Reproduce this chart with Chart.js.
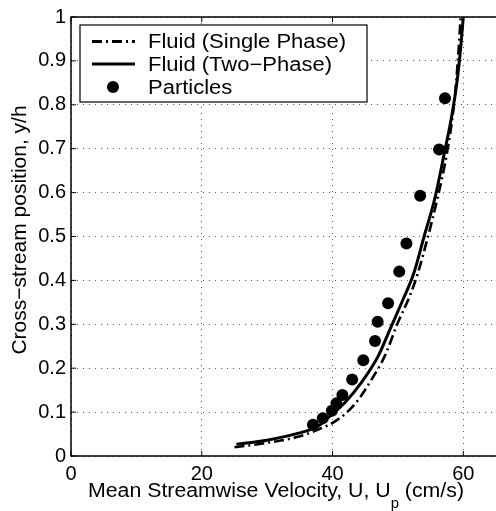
<!DOCTYPE html>
<html>
<head>
<meta charset="utf-8">
<script src="https://cdn.jsdelivr.net/npm/chart.js@4/dist/chart.umd.min.js"></script>
<style>
  html, body { margin: 0; padding: 0; background: #fff; overflow: hidden; }
  canvas { display: block; }
</style>
</head>
<body>
<canvas id="chart" width="496" height="511"></canvas>
<script>
// values
const singlePhaseU = [25.0, 30.0, 35.0, 37.9, 40.5, 43.4, 46.0, 48.0, 50.0, 51.8, 53.0, 54.6, 56.1, 57.5, 58.5, 58.9, 59.3, 59.6];
const singlePhaseY = [0.020, 0.030, 0.045, 0.061, 0.080, 0.118, 0.175, 0.228, 0.304, 0.364, 0.414, 0.500, 0.590, 0.690, 0.790, 0.850, 0.930, 1.000];

const twoPhaseU = [25.3, 30.0, 34.8, 37.9, 39.4, 41.9, 44.4, 47.0, 49.0, 50.8, 52.4, 54.0, 55.6, 57.1, 58.3, 59.1, 59.6, 60.0];
const twoPhaseY = [0.027, 0.036, 0.052, 0.069, 0.088, 0.122, 0.167, 0.228, 0.296, 0.357, 0.415, 0.500, 0.584, 0.690, 0.780, 0.860, 0.930, 1.000];

const particleU = [37.0, 38.5, 39.9, 40.6, 41.5, 43.0, 44.7, 46.5, 46.9, 48.5, 50.2, 51.3, 53.4, 56.3, 57.2];
const particleY = [0.071, 0.086, 0.103, 0.120, 0.139, 0.174, 0.218, 0.262, 0.306, 0.348, 0.420, 0.484, 0.593, 0.698, 0.815];

const xTickValues = [0, 20, 40, 60];
const legendLabels = ['Fluid (Single Phase)', 'Fluid (Two\u2212Phase)', 'Particles'];
const xTitleParts = ['Mean Streamwise Velocity, U, U', 'p', ' (cm/s)'];
const yTitle = 'Cross\u2212stream position, y/h';

const FONT = '"Liberation Sans", Arial, Helvetica, sans-serif';
const DASH_DOT = [10, 4, 2, 4];

function toPoints(xs, ys) {
    return xs.map((x, i) => ({ x: x, y: ys[i] }));
}

function stretched(ctx, text, x, y, sx) {
    ctx.save();
    ctx.translate(x, y);
    ctx.scale(sx, 1);
    ctx.fillText(text, 0, 0);
    ctx.restore();
}

// axes lines (right side is cut off in the original) plus inward tick marks
const framePlugin = {
    id: 'frame',
    afterDatasetsDraw(chart) {
        const ctx = chart.ctx;
        const a = chart.chartArea;
        const xs = chart.scales.x, ys = chart.scales.y;
        ctx.save();
        ctx.strokeStyle = '#000';
        ctx.lineWidth = 1.5;
        ctx.beginPath();
        ctx.moveTo(a.right, a.top);
        ctx.lineTo(a.left, a.top);
        ctx.lineTo(a.left, a.bottom);
        ctx.lineTo(a.right, a.bottom);
        ctx.stroke();
        ctx.lineWidth = 1;
        ctx.beginPath();
        xTickValues.forEach(v => {
            const px = xs.getPixelForValue(v);
            ctx.moveTo(px, a.bottom); ctx.lineTo(px, a.bottom - 5);
            ctx.moveTo(px, a.top); ctx.lineTo(px, a.top + 5);
        });
        ys.ticks.forEach(t => {
            const py = ys.getPixelForValue(t.value);
            ctx.moveTo(a.left, py); ctx.lineTo(a.left + 5, py);
        });
        ctx.stroke();
        ctx.restore();
    }
};

const titlesPlugin = {
    id: 'titles',
    afterDraw(chart) {
        const ctx = chart.ctx;
        ctx.save();
        ctx.fillStyle = '#000';
        ctx.textBaseline = 'alphabetic';
        ctx.textAlign = 'left';
        // x title with subscript p
        const sx = 1.065;
        let x = 88;
        const base = 497;
        ctx.font = '20px ' + FONT;
        stretched(ctx, xTitleParts[0], x, base, sx);
        x += ctx.measureText(xTitleParts[0]).width * sx;
        ctx.font = '14px ' + FONT;
        stretched(ctx, xTitleParts[1], x, base + 11, sx);
        x += ctx.measureText(xTitleParts[1]).width * sx;
        ctx.font = '20px ' + FONT;
        stretched(ctx, xTitleParts[2], x, base, sx);

        // y title
        ctx.font = '21px ' + FONT;
        ctx.translate(26, 230);
        ctx.rotate(-Math.PI / 2);
        ctx.textAlign = 'center';
        ctx.fillText(yTitle, 0, 0);
        ctx.restore();
    }
};

const legendPlugin = {
    id: 'boxLegend',
    afterDraw(chart) {
        const ctx = chart.ctx;
        const box = { l: 80, t: 25, r: 367, b: 102 };
        const rows = [41.5, 64, 87];
        ctx.save();
        ctx.fillStyle = '#fff';
        ctx.fillRect(box.l, box.t, box.r - box.l, box.b - box.t);
        ctx.strokeStyle = '#000';
        ctx.lineWidth = 1.2;
        ctx.strokeRect(box.l, box.t, box.r - box.l, box.b - box.t);

        ctx.lineWidth = 3;
        ctx.setLineDash(DASH_DOT);
        ctx.beginPath(); ctx.moveTo(92, rows[0]); ctx.lineTo(135, rows[0]); ctx.stroke();
        ctx.setLineDash([]);
        ctx.beginPath(); ctx.moveTo(92, rows[1]); ctx.lineTo(135, rows[1]); ctx.stroke();
        ctx.fillStyle = '#000';
        ctx.beginPath(); ctx.arc(113, rows[2], 6, 0, Math.PI * 2); ctx.fill();

        ctx.font = '20px ' + FONT;
        ctx.textBaseline = 'middle';
        legendLabels.forEach((txt, i) => stretched(ctx, txt, 148, rows[i] + 1, 1.1));
        ctx.restore();
    }
};

const data = {
    datasets: [
        {
            label: 'Particles',
            data: toPoints(particleU, particleY),
            showLine: false,
            pointRadius: 6,
            pointBackgroundColor: '#000',
            pointBorderWidth: 0,
            order: 0
        },
        {
            label: 'Fluid (Two-Phase)',
            data: toPoints(twoPhaseU, twoPhaseY),
            showLine: true,
            borderColor: '#000',
            borderWidth: 3,
            pointRadius: 0,
            cubicInterpolationMode: 'monotone',
            order: 1
        },
        {
            label: 'Fluid (Single Phase)',
            data: toPoints(singlePhaseU, singlePhaseY),
            showLine: true,
            borderColor: '#000',
            borderWidth: 2.6,
            borderDash: DASH_DOT,
            pointRadius: 0,
            cubicInterpolationMode: 'monotone',
            order: 2
        }
    ]
};

const config = {
    type: 'scatter',
    data: data,
    options: {
        responsive: false,
        animation: false,
        devicePixelRatio: 1,
        layout: { autoPadding: false, padding: { top: 17, right: 0, left: 0, bottom: 0 } },
        plugins: {
            legend: { display: false },
            tooltip: { enabled: false }
        },
        scales: {
            x: {
                type: 'linear',
                min: 0,
                max: 65,
                afterBuildTicks: (s) => { s.ticks = xTickValues.map(v => ({ value: v })); },
                afterFit: (s) => { s.height = 55; s.paddingLeft = 0; s.paddingRight = 0; },
                ticks: {
                    color: '#000',
                    font: { family: FONT, size: 20 },
                    padding: 6,
                    maxRotation: 0,
                    callback: (v) => String(v)
                },
                grid: { color: '#555', lineWidth: 1, drawTicks: false },
                border: { display: false, dash: [1, 5] }
            },
            y: {
                min: 0,
                max: 1,
                afterFit: (s) => { s.width = 71; s.paddingTop = 0; s.paddingBottom = 0; },
                ticks: {
                    stepSize: 0.1,
                    color: '#000',
                    font: { family: FONT, size: 20 },
                    padding: 5,
                    callback: (v) => (v === 0 || v === 1) ? String(v) : v.toFixed(1)
                },
                grid: { color: '#555', lineWidth: 1, drawTicks: false },
                border: { display: false, dash: [1, 5] }
            }
        }
    },
    plugins: [framePlugin, legendPlugin, titlesPlugin]
};

new Chart(document.getElementById('chart').getContext('2d'), config);
</script>
</body>
</html>
